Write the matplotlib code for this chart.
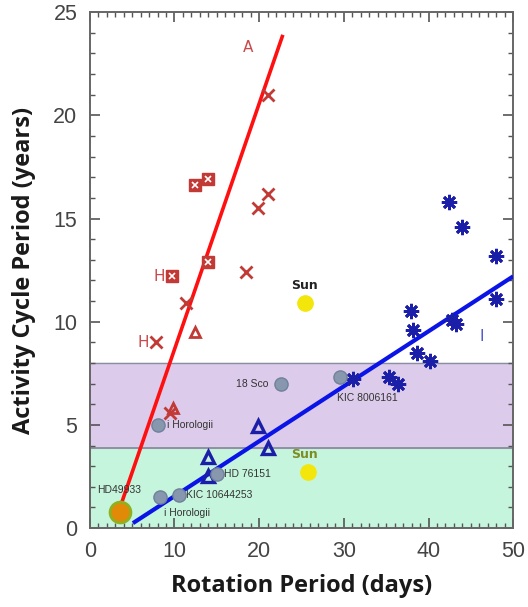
import numpy as np
import matplotlib.pyplot as plt

# active branch (red) stars
red_x_per = [21.1, 21.1, 19.9, 18.5, 11.4, 7.8, 9.5]
red_x_cyc = [21.0, 16.2, 15.5, 12.4, 10.9, 9.0, 5.6]
red_sq_per = [12.4, 14.0, 14.0, 9.7]
red_sq_cyc = [16.6, 16.9, 12.9, 12.2]
red_tri_per = [12.4, 9.8]
red_tri_cyc = [9.5, 5.8]

# inactive branch (blue) stars
blue_ast_per = [42.4, 44.0, 48.0, 48.0, 37.9, 38.2, 42.8, 43.2, 38.6, 40.2, 31.1, 35.3, 36.4]
blue_ast_cyc = [15.8, 14.6, 13.2, 11.1, 10.5, 9.6, 10.1, 9.9, 8.5, 8.1, 7.2, 7.3, 7.0]
blue_tri_per = [19.9, 21.1, 14.0, 14.0]
blue_tri_cyc = [4.95, 3.9, 3.45, 2.5]

# named stars (grey circles)
named_per = [22.6, 8.1, 15.0, 10.5, 8.3, 29.5]
named_cyc = [7.0, 5.0, 2.6, 1.6, 1.5, 7.3]

hd49933 = (3.55, 0.8)
sun_per = [25.4, 25.8]
sun_cyc = [10.9, 2.7]

# fitted branches (end points)
red_line_per = [3.55, 22.8]
red_line_cyc = [0.97, 23.9]
blue_line_per = [5.1, 50.0]
blue_line_cyc = [0.24, 12.2]

fig = plt.figure(figsize=(5.28, 6.07), dpi=100)
ax = fig.add_axes([0.170, 0.130, 0.802, 0.850])

ax.axhspan(0, 3.9, color='#c6f5de', zorder=0)
ax.axhspan(3.9, 8.0, color='#dccbea', zorder=0)
ax.axhline(3.9, color='#7d8a94', lw=1.2, zorder=1)
ax.axhline(8.0, color='#8a8fa0', lw=1.0, zorder=1)

ax.plot(red_line_per, red_line_cyc, color='#ff1010', lw=2.6, zorder=3, solid_capstyle='butt')
ax.plot(blue_line_per, blue_line_cyc, color='#0a14e6', lw=3.0, zorder=3, solid_capstyle='butt')

red = '#c23a36'
navy = '#1b1fa8'
ax.plot(red_x_per, red_x_cyc, 'x', color=red, ms=8, mew=2, ls='none', zorder=4)
ax.plot(red_sq_per, red_sq_cyc, 's', mfc=red, mec=red, ms=9, ls='none', zorder=4)
ax.plot(red_sq_per, red_sq_cyc, 'x', color='white', ms=5, mew=1.2, ls='none', zorder=5)
ax.plot(red_tri_per, red_tri_cyc, '^', mfc='none', mec=red, ms=7.5, mew=2, ls='none', zorder=4)

ax.plot(blue_ast_per, blue_ast_cyc, marker=(8, 2, 0), color=navy, ms=11, mew=2.0, ls='none', zorder=4)
ax.plot(blue_tri_per, blue_tri_cyc, '^', mfc='none', mec=navy, ms=8.5, mew=2.4, ls='none', zorder=4)

ax.plot(named_per, named_cyc, 'o', mfc='#8797ad', mec='#71819a', ms=9.5, mew=1, ls='none', zorder=4)
ax.plot(*hd49933, 'o', mfc='#e08a08', mec='#90b020', ms=15, mew=2, zorder=4)
ax.plot(sun_per, sun_cyc, 'o', mfc='#f3e60a', mec='#f3e60a', ms=11, ls='none', zorder=4)

lab = dict(fontsize=7.5, color='#333333', zorder=6, family='Liberation Sans')
ax.text(21.1, 7.0, '18 Sco', ha='right', va='center', **lab)
ax.text(9.1, 5.0, 'i Horologii', ha='left', va='center', **lab)
ax.text(15.9, 2.6, 'HD 76151', ha='left', va='center', **lab)
ax.text(11.4, 1.6, 'KIC 10644253', ha='left', va='center', **lab)
ax.text(8.8, 0.75, 'i Horologii', ha='left', va='center', **lab)
ax.text(0.9, 1.85, 'HD49933', ha='left', va='center', **lab)
ax.text(29.2, 6.3, 'KIC 8006161', ha='left', va='center', **lab)

ax.text(25.4, 11.75, 'Sun', ha='center', va='center', fontsize=9, fontweight='bold', color='#222222', zorder=6)
ax.text(25.4, 3.55, 'Sun', ha='center', va='center', fontsize=9, fontweight='bold', color='#7c8d22', zorder=6)

hfont = dict(fontsize=11, color='#c84a4a', va='center', zorder=6)
ax.text(18.7, 23.3, 'A', ha='center', **hfont)
ax.text(8.9, 12.2, 'H', ha='right', **hfont)
ax.text(7.0, 9.0, 'H', ha='right', **hfont)
ax.text(46.3, 9.3, 'I', ha='center', fontsize=11, color='#4a55c8', va='center', zorder=6)

ax.set_xlim(0, 50)
ax.set_ylim(0, 25)
ax.set_xticks([0, 10, 20, 30, 40, 50])
ax.set_yticks([0, 5, 10, 15, 20, 25])
ax.set_xticks(np.arange(0, 51, 1), minor=True)
ax.set_yticks(np.arange(0, 26, 1), minor=True)
ax.tick_params(which='both', direction='in', top=True, right=True, color='#555555')
ax.tick_params(which='major', length=7, width=1.2, labelsize=15.5, labelcolor='#444444', pad=9)
ax.tick_params(which='minor', length=3.5, width=1)
for t in ax.get_xticklabels() + ax.get_yticklabels():
    t.set_family('Liberation Sans')
for s in ax.spines.values():
    s.set_color('#666666')
    s.set_linewidth(1.4)

ax.set_xlabel('Rotation Period (days)', fontsize=17, fontweight='bold', family='Open Sans', color='#1a1a1a', labelpad=9)
ax.set_ylabel('Activity Cycle Period (years)', fontsize=17, fontweight='bold', family='Open Sans', color='#1a1a1a', labelpad=12)

fig.savefig('out.png', dpi=100)
